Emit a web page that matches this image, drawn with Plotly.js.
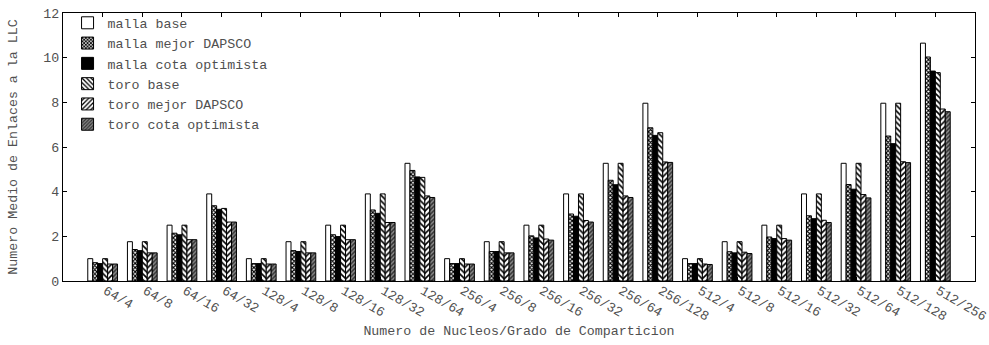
<!DOCTYPE html>
<html>
<head>
<meta charset="utf-8">
<script src="https://cdn.plot.ly/plotly-3.0.1.min.js"></script>
<style>html,body{margin:0;padding:0;background:#fff;}#chart{width:989px;height:345px;}</style>
</head>
<body>
<div id="chart"></div>
<script>
const categories = ["64/4","64/8","64/16","64/32","128/4","128/8","128/16","128/32","128/64",
  "256/4","256/8","256/16","256/32","256/64","256/128",
  "512/4","512/8","512/16","512/32","512/64","512/128","512/256"];

const seriesNames = ["malla base","malla mejor DAPSCO","malla cota optimista","toro base","toro mejor DAPSCO","toro cota optimista"];

const mallaBase       = [1.00,1.76,2.50,3.90, 1.00,1.76,2.50,3.90,5.27, 1.00,1.76,2.50,3.90,5.27,7.96, 1.00,1.76,2.50,3.90,5.27,7.96,10.65];
const mallaDapsco     = [0.82,1.41,2.14,3.37, 0.78,1.36,2.07,3.18,4.95, 0.78,1.32,2.02,3.00,4.51,6.86, 0.78,1.31,1.97,2.92,4.32,6.49,10.03];
const mallaOptimista  = [0.78,1.36,2.07,3.21, 0.78,1.32,1.99,3.03,4.66, 0.78,1.32,1.93,2.90,4.31,6.52, 0.78,1.26,1.90,2.79,4.11,6.15,9.40];
const toroBase        = [1.00,1.76,2.50,3.25, 1.00,1.76,2.50,3.90,4.64, 1.00,1.76,2.50,3.90,5.27,6.64, 1.00,1.76,2.50,3.90,5.27,7.96,9.33];
const toroDapsco      = [0.76,1.26,1.85,2.64, 0.76,1.26,1.85,2.62,3.81, 0.76,1.26,1.88,2.71,3.81,5.33, 0.76,1.29,1.90,2.72,3.87,5.34,7.70];
const toroOptimista   = [0.76,1.26,1.85,2.64, 0.76,1.26,1.85,2.62,3.74, 0.76,1.26,1.83,2.64,3.74,5.31, 0.74,1.23,1.83,2.62,3.72,5.30,7.58];

const seriesValues = [mallaBase, mallaDapsco, mallaOptimista, toroBase, toroDapsco, toroOptimista];

const styles = [
  {color:"#ffffff", pattern:{shape:""}},
  {color:"#ffffff", pattern:{shape:"x", fgcolor:"#000000", bgcolor:"#ffffff", size:3, solidity:0.6, fillmode:"replace"}},
  {color:"#000000", pattern:{shape:""}},
  {color:"#ffffff", pattern:{shape:"\\", fgcolor:"#000000", bgcolor:"#ffffff", size:4, solidity:0.4, fillmode:"replace"}},
  {color:"#ffffff", pattern:{shape:"/", fgcolor:"#000000", bgcolor:"#ffffff", size:4, solidity:0.4, fillmode:"replace"}},
  {color:"#777777", pattern:{shape:"/", fgcolor:"#333333", bgcolor:"#8a8a8a", size:3, solidity:0.5, fillmode:"replace"}}
];

const FONT = "Liberation Mono, DejaVu Sans Mono, monospace";
const TXT = "#505050";
const FS = 13.3;
const xIdx = categories.map((c,i)=>i);

const traces = seriesNames.map((name,k)=>({
  type:"bar",
  name:name,
  x:xIdx,
  y:seriesValues[k],
  marker:{color:styles[k].color, pattern:styles[k].pattern, line:{color:"#000000", width:1}},
  hoverinfo:"skip"
}));

const layout = {
  width:989, height:345,
  margin:{l:63, r:14, t:8, b:64},
  paper_bgcolor:"#ffffff", plot_bgcolor:"#ffffff",
  barmode:"group", bargap:0.25, bargroupgap:0,
  font:{family:FONT, size:FS, color:TXT},
  showlegend:true,
  legend:{x:0.005, y:1.02, xanchor:"left", yanchor:"top", bgcolor:"rgba(0,0,0,0)",
    font:{family:FONT, size:FS, color:TXT}, tracegroupgap:0, itemwidth:30},
  xaxis:{
    range:[-1,22], tickmode:"array", tickvals:xIdx, ticktext:categories,
    tickangle:30, ticks:"inside", ticklen:4, tickcolor:"#000",
    ticklabelstandoff:-4, ticklabelshift:3,
    showline:true, linecolor:"#000", linewidth:1, mirror:"ticks",
    showgrid:false, zeroline:false,
    tickfont:{family:FONT, size:FS, color:TXT},
    title:{text:"Numero de Nucleos/Grado de Comparticion", font:{family:FONT, size:FS, color:TXT}, standoff:2}
  },
  yaxis:{
    range:[0,12], dtick:2, ticks:"inside", ticklen:4, tickcolor:"#000",
    showline:true, linecolor:"#000", linewidth:1, mirror:"ticks",
    showgrid:false, zeroline:false,
    tickfont:{family:FONT, size:FS, color:TXT},
    title:{text:"Numero Medio de Enlaces a la LLC", font:{family:FONT, size:FS, color:TXT}, standoff:22}
  }
};

Plotly.newPlot("chart", traces, layout, {displayModeBar:false, staticPlot:true});
</script>
</body>
</html>
